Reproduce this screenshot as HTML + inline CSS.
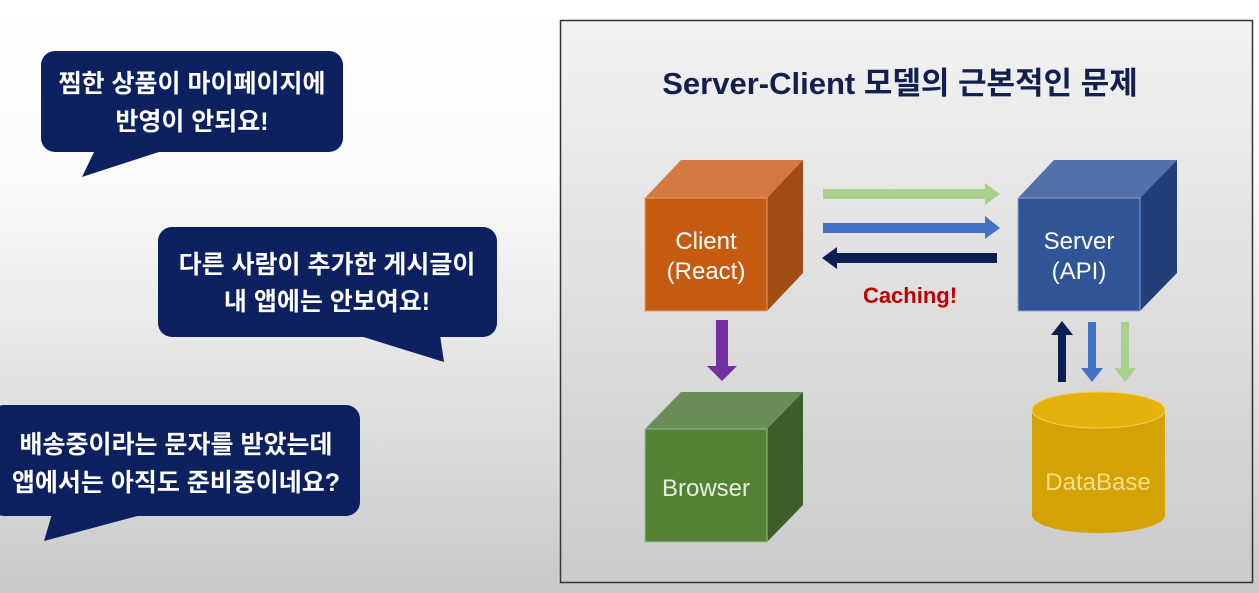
<!DOCTYPE html>
<html><head><meta charset="utf-8"><style>
html,body{margin:0;padding:0;width:1259px;height:593px;overflow:hidden}
body{background:linear-gradient(#ffffff 0%,#fbfbfb 30%,#c9c9c9 100%)}
svg{display:block}
text{font-family:"Liberation Sans","Noto Sans CJK KR",sans-serif}
</style></head><body>
<svg width="1259" height="593" viewBox="0 0 1259 593">
<defs>
<linearGradient id="pg" x1="0" y1="0" x2="0" y2="1"><stop offset="0" stop-color="#f2f2f2"/><stop offset="1" stop-color="#cbcbcb"/></linearGradient>
</defs>
<g fill="#0d2160">
<rect x="41" y="51" width="302" height="101" rx="14"/>
<polygon points="95,150 165,150 82,177"/>
<rect x="158" y="227" width="339" height="110" rx="14"/>
<polygon points="357,335 440,335 444,362"/>
<rect x="-10" y="405" width="370" height="111" rx="14"/>
<polygon points="52,514 145,514 44,541"/>
</g>
<g fill="#fff" font-weight="bold" font-size="25" text-anchor="middle">
<text x="192" y="92">찜한 상품이 마이페이지에</text>
<text x="192" y="130">반영이 안되요!</text>
<text x="327" y="273">다른 사람이 추가한 게시글이</text>
<text x="327" y="310">내 앱에는 안보여요!</text>
<text x="176" y="453">배송중이라는 문자를 받았는데</text>
<text x="176" y="491">앱에서는 아직도 준비중이네요?</text>
</g>
<rect x="560.5" y="20.5" width="692" height="562" fill="url(#pg)" stroke="#333" stroke-width="1.5"/>
<text x="900" y="94" text-anchor="middle" font-size="31" font-weight="bold" fill="#13204f">Server-Client 모델의 근본적인 문제</text>
<polygon points="645,198 681,160 803,160 767,198" fill="#d57942"/>
<polygon points="767,198 803,160 803,273 767,311" fill="#a04c14"/>
<rect x="645" y="198" width="122" height="113" fill="#c55a11" stroke="#e8a070" stroke-width="1"/>
<text x="706" y="249" text-anchor="middle" font-size="24" fill="#fff">Client</text>
<text x="706" y="279" text-anchor="middle" font-size="24" fill="#fff">(React)</text>
<polygon points="1018,198 1054,160 1177,160 1140,198" fill="#5470a8"/>
<polygon points="1140,198 1177,160 1177,273 1140,311" fill="#223f7a"/>
<rect x="1018" y="198" width="122" height="113" fill="#2f5597" stroke="#8aa3d0" stroke-width="1"/>
<text x="1079" y="249" text-anchor="middle" font-size="24" fill="#fff">Server</text>
<text x="1079" y="279" text-anchor="middle" font-size="24" fill="#fff">(API)</text>
<polygon points="645,429 681,392 803,392 767,429" fill="#6b8d58"/>
<polygon points="767,429 803,392 803,505 767,542" fill="#3d5e27"/>
<rect x="645" y="429" width="122" height="113" fill="#548235" stroke="#a0c090" stroke-width="1"/>
<text x="706" y="496" text-anchor="middle" font-size="24" fill="#e8eee0">Browser</text>
<path d="M1032,410 L1032,515 A66,18 0 0 0 1165,515 L1165,410 Z" fill="#d4a203"/>
<ellipse cx="1098.5" cy="410" rx="66.5" ry="18" fill="#e5b20c" stroke="#f0cc60" stroke-width="1"/>
<text x="1098" y="490" text-anchor="middle" font-size="24" fill="#f4dd90">DataBase</text>
<polygon points="823,189 985,189 985,183 1000,194 985,205 985,199 823,199" fill="#a9d18e"/>
<polygon points="823,223 985,223 985,216 1000,228 985,239 985,233 823,233" fill="#4472c4"/>
<polygon points="997,253 837,253 837,247 822,258 837,269 837,263 997,263" fill="#0c1f55"/>
<text x="910" y="303" text-anchor="middle" font-size="22" font-weight="bold" fill="#c00000">Caching!</text>
<polygon points="716,320 728,320 728,366 737,366 722,381 707,366 716,366" fill="#7030a0"/>
<polygon points="1058,382 1066,382 1066,335 1073,335 1062,321 1051,335 1058,335" fill="#0c1f55"/>
<polygon points="1088,322 1096,322 1096,368 1103,368 1092,382 1081,368 1088,368" fill="#4472c4"/>
<polygon points="1121,322 1129,322 1129,368 1136,368 1125,382 1114,368 1121,368" fill="#a9d18e"/>
</svg>
</body></html>
